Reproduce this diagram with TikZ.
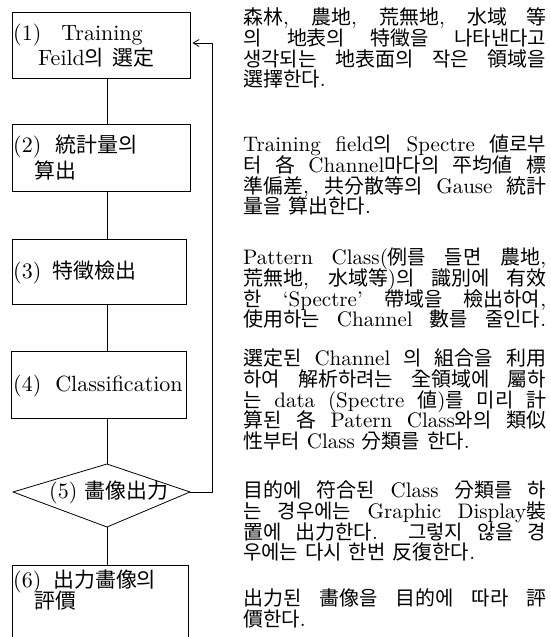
\documentclass[tikz,border=0pt]{standalone}
\usepackage{fontspec}
\setmainfont{lmroman10-regular.otf}
\newfontfamily\cjk[Scale=0.95]{Noto Sans CJK KR}
\usetikzlibrary{arrows.meta}
\XeTeXinterchartokenstate=1
\newXeTeXintercharclass\cjkcls
\newcount\cjkcnt
\newcommand\cjkrange[2]{\cjkcnt=#1\relax
  \loop\ifnum\cjkcnt<#2\relax
    \XeTeXcharclass\cjkcnt=\cjkcls
    \advance\cjkcnt by 1\relax
  \repeat}
\cjkrange{"4E00}{"A000}
\cjkrange{"AC00}{"D7A4}
\cjkrange{"3130}{"3190}
\cjkrange{"F900}{"FB00}
\XeTeXinterchartoks 0 \cjkcls = {\cjk}
\XeTeXinterchartoks 4095 \cjkcls = {\cjk}
\XeTeXinterchartoks \cjkcls 0 = {\rmfamily}
\XeTeXinterchartoks \cjkcls 4095 = {\rmfamily}
\newdimen\colw \colw=303pt
\newcommand\jline[1]{\hbox to \colw{#1}}
\newcommand\lline[1]{\hbox{#1}}
\newcommand\rtxt{\fontsize{21}{20.8}\selectfont\lineskiplimit=-100pt\relax}
\newcommand\btxt{\fontsize{22}{25.5}\selectfont\lineskiplimit=-100pt\relax}
\newcommand\btxtsix{\fontsize{22}{21}\selectfont\lineskiplimit=-100pt\relax}
\tikzset{
  boxst/.style={draw, line width=0.8pt, inner sep=0pt},
  conn/.style={line width=0.8pt},
  rt/.style={anchor=base west, inner sep=0pt, font=\rtxt},
  bt/.style={anchor=base west, inner sep=0pt, font=\btxt},
}
\begin{document}
\begin{tikzpicture}[x=1pt, y=-1pt]
\useasboundingbox (0,0) rectangle (551,637);
\clip (0,0) rectangle (551,637);
% boxes
\node[boxst, minimum width=178pt, minimum height=66pt] (b1) at (101,45) {};
\node[boxst, minimum width=178pt, minimum height=67pt] (b2) at (101,157.5) {};
\node[boxst, minimum width=174pt, minimum height=65pt] (b3) at (99,271.5) {};
\node[boxst, minimum width=175pt, minimum height=67pt] (b4) at (98.5,384.5) {};
\node[boxst, minimum width=176pt, minimum height=115pt] (b6) at (100,622.5) {};
% diamond
\coordinate (dt) at (107,464);
\coordinate (dr) at (190,492);
\coordinate (db) at (107,527);
\coordinate (dl) at (13,492);
\draw[conn] (dt) -- (dr) -- (db) -- (dl) -- cycle;
% box texts
\node[bt] (t1) at (13,40) {\vtop{\hbox{(1)\hspace{20pt}Training}\hbox{\hspace{25pt}Feild의\hspace{8pt}選定}}};
\node[bt] (t2) at (13,152.5) {\vtop{\hbox{(2)\hspace{14pt}統計量의}\hbox{\hspace{21pt}算出}}};
\node[bt] (t3) at (13,278) {(3)\hspace{11pt}特徵檢出};
\node[bt] (t4) at (13,391) {(4)\hspace{14pt}Classification};
\node[bt] (t5) at (49,498) {(5)\hspace{7pt}畵像出力};
\node[bt, font=\btxtsix] (t6) at (13,587) {\vtop{\hbox{(6)\hspace{12pt}出力畵像의}\hbox{\hspace{21pt}評價}}};
% connectors
\coordinate (cx) at (107,0);
\draw[conn] (b1.south -| cx) -- (b2.north -| cx);
\draw[conn] (b2.south -| cx) -- (b3.north -| cx);
\draw[conn] (b3.south -| cx) -- (b4.north -| cx);
\draw[conn] (b4.south -| cx) -- (dt);
\draw[conn] (db) -- (b6.north -| cx);
\coordinate (lt) at (212,43);
\coordinate (lb) at (212,492);
\draw[conn] (dr) -- (lb) -- (lt);
\draw[conn, -{Straight Barb[length=6pt,width=7pt]}, shorten >=2pt] (lt) -- (b1.east |- lt);
% right texts
\node[rt] (r1) at (243,24.5) {\vtop{%
\jline{森林, 農地, 荒無地, 水域 等}
\jline{의 地表의 特徵을 나타낸다고}
\jline{생각되는 地表面의 작은 領域을}
\lline{選擇한다.}}};
\node[rt] (r2) at (243,151.5) {\vtop{%
\jline{Training field의 Spectre 値로부}
\jline{터 各 Channel마다의 平均値 標}
\jline{準偏差, 共分散等의 Gause 統計}
\lline{量을 算出한다.}}};
\node[rt] (r3) at (243,264.5) {\vtop{%
\jline{Pattern Class(例를 들면 農地,}
\jline{荒無地, 水域等)의 識別에 有效}
\jline{한 `Spectre' 帶域을 檢出하여,}
\jline{使用하는 Channel 數를 줄인다.}}};
\node[rt] (r4) at (243,365.5) {\vtop{%
\jline{選定된 Channel 의 組合을 利用}
\jline{하여 解析하려는 全領域에 屬하}
\jline{는 data (Spectre 値)를 미리 計}
\jline{算된 各 Patern Class와의 類似}
\lline{性부터 Class 分類를 한다.}}};
\node[rt] (r5) at (243,497.5) {\vtop{%
\jline{目的에 符合된 Class 分類를 하}
\jline{는 경우에는 Graphic Display裝}
\jline{置에 出力한다. 그렇지 않을 경}
\lline{우에는 다시 한번 反復한다.}}};
\node[rt] (r6) at (243,605.5) {\vtop{%
\jline{出力된 畵像을 目的에 따라 評}
\lline{價한다.}}};
\end{tikzpicture}
\end{document}
